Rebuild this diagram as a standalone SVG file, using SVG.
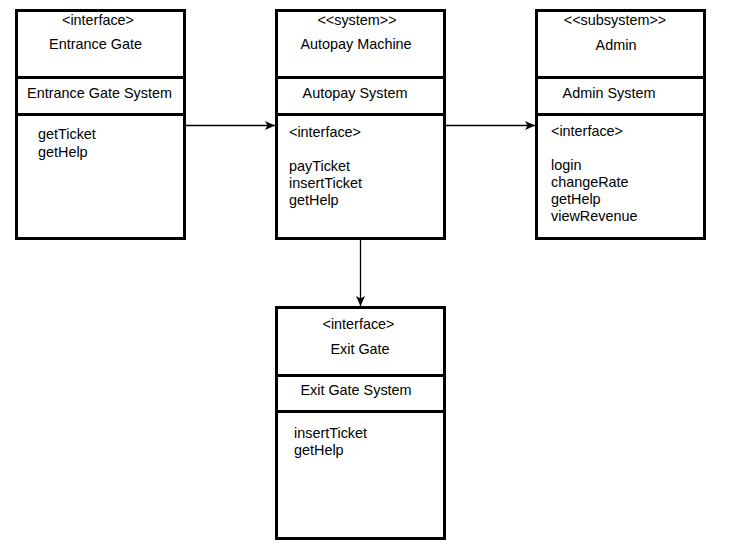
<svg xmlns="http://www.w3.org/2000/svg" width="749" height="560" viewBox="0 0 749 560">
<defs>
<style>
.box{fill:#fff;stroke:#000;stroke-width:3}
.div{stroke:#000;stroke-width:3;fill:none}
text{font-family:"Liberation Sans",Arial,sans-serif;font-size:14.4px;fill:#000}
.c{text-anchor:middle}
.edge{stroke:#000;stroke-width:1.3;fill:none;marker-end:url(#arr)}
</style>
<marker id="arr" markerUnits="userSpaceOnUse" markerWidth="12" markerHeight="10" refX="10" refY="5" orient="auto" viewBox="0 0 12 10">
<path d="M0,0.5 L10,5 L0,9.5 L2.5,5 Z" fill="#000"/>
</marker>
</defs>
<rect width="749" height="560" fill="#fff"/>
<g id="connectors">
<line class="edge" x1="186" y1="125.5" x2="275" y2="125.5"/>
<line class="edge" x1="446" y1="125.5" x2="535" y2="125.5"/>
<line class="edge" x1="360.5" y1="240" x2="360.5" y2="306"/>
</g>
<g id="entrance-gate">
<rect class="box" x="16.5" y="10.5" width="168" height="228"/>
<line class="div" x1="16.5" y1="77.5" x2="184.5" y2="77.5"/>
<line class="div" x1="16.5" y1="114.5" x2="184.5" y2="114.5"/>
<text class="c" x="98" y="25">&lt;interface&gt;</text>
<text class="c" x="95.5" y="49">Entrance Gate</text>
<text class="c" x="99.5" y="98">Entrance Gate System</text>
<text x="38" y="139">getTicket</text>
<text x="38" y="156.5">getHelp</text>
</g>
<g id="autopay-machine">
<rect class="box" x="276.5" y="10.5" width="168" height="228"/>
<line class="div" x1="276.5" y1="77.5" x2="444.5" y2="77.5"/>
<line class="div" x1="276.5" y1="114.5" x2="444.5" y2="114.5"/>
<text class="c" x="357" y="25">&lt;&lt;system&gt;&gt;</text>
<text class="c" x="356" y="49">Autopay Machine</text>
<text class="c" x="355" y="98">Autopay System</text>
<text x="289" y="137">&lt;interface&gt;</text>
<text x="289" y="171">payTicket</text>
<text x="289" y="188">insertTicket</text>
<text x="289" y="205">getHelp</text>
</g>
<g id="admin">
<rect class="box" x="536.5" y="10.5" width="168" height="228"/>
<line class="div" x1="536.5" y1="77.5" x2="704.5" y2="77.5"/>
<line class="div" x1="536.5" y1="114.5" x2="704.5" y2="114.5"/>
<text class="c" x="615" y="25">&lt;&lt;subsystem&gt;&gt;</text>
<text class="c" x="616" y="50">Admin</text>
<text class="c" x="609" y="98">Admin System</text>
<text x="551" y="136">&lt;interface&gt;</text>
<text x="551" y="170">login</text>
<text x="551" y="187">changeRate</text>
<text x="551" y="204">getHelp</text>
<text x="551" y="221">viewRevenue</text>
</g>
<g id="exit-gate">
<rect class="box" x="276.5" y="307.5" width="168" height="231"/>
<line class="div" x1="276.5" y1="375.5" x2="444.5" y2="375.5"/>
<line class="div" x1="276.5" y1="411.5" x2="444.5" y2="411.5"/>
<text class="c" x="358.5" y="329">&lt;interface&gt;</text>
<text class="c" x="360" y="354">Exit Gate</text>
<text class="c" x="356" y="395">Exit Gate System</text>
<text x="294" y="438">insertTicket</text>
<text x="294" y="455">getHelp</text>
</g>
</svg>
